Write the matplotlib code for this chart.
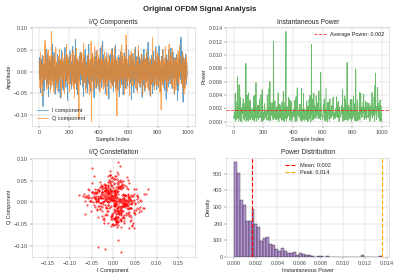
import numpy as np
import matplotlib.pyplot as plt

# I/Q samples (in units of 1e-3), every 2nd sample of the 1000-sample signal
i_vals = [
    4, -17, 33, -2, 21, -48, 7, -12, 29, 15, -6, 38, -23, -80, 9, -31, 18, 1, -44, 11,
    -8, 26, -14, 52, 3, -35, 19, -1, -27, 41, 12, -5, -58, 22, 6, -16, 30, -9, 24, -39,
    17, 10, -4, 36, -21, 63, -11, 2, -33, 8, 45, -19, 28, -7, -52, 13, 0, -26, 20, 5,
    -29, 6, 40, -15, -3, 23, -47, 11, 34, 1, -18, -61, 9, 27, -10, 49, -5, 14, -37, 2,
    22, -43, 7, -13, 31, -2, 18, 56, -24, 4, -36, 15, -8, 39, -20, 3, -67, 26, 10, -6,
    -1, 34, -17, 9, 48, -28, 12, -5, 21, -40, 6, 25, -14, 59, -3, -32, 16, 8, -22, 37,
    11, -26, 75, -9, 19, 2, -41, 30, -15, 7, -53, 24, -4, 13, -20, 36, 0, -11, 44, -30,
    5, 28, -18, 42, -7, 15, -35, 1, 23, -57, 10, 33, -2, -25, 18, 51, -12, 6, -39, 21,
    -14, 3, 37, -49, 8, 20, -27, 64, -6, 12, -33, 2, 26, -16, -45, 9, 18, 31, -4, -22,
    40, -10, 7, -30, 16, -60, 24, -3, 35, 13, -19, 1, 47, -38, 5, 22, -8, -27, 11, 29,
    -5, 19, -42, 9, 32, -13, 55, -1, -24, 14, 4, -36, 27, -9, 70, -17, 6, 38, -28, 2,
    25, -7, 13, -51, 3, 31, -20, 8, 44, -15, -2, 19, -34, 10, 6, -63, 28, -12, 37, 0,
    -18, 41, 4, -26, 15, -9, 54, -32, 7, 22, -46, 1, 17, 30, -5, -21, 12, 62, -38, 8,
    3, 27, -35, 14, -42, 6, -17, 38, -1, 21, -58, 9, 33, -12, 5, 46, -24, 16, -7, -30,
    36, -4, 20, -53, 11, 2, -28, 44, -15, 7, 29, -38, -10, 15, 61, -21, 3, -33, 18, -6,
    -13, 24, 50, -2, -37, 17, 8, -26, 39, -9, 13, -65, 4, 31, -19, 1, 42, -11, 22, -48,
    9, -30, 16, 3, 57, -22, -6, 35, -14, 25, -43, 0, 12, -27, 48, 7, -18, 34, -3, 20,
    -36, 11, -5, 28, -16, 6, 40, -59, 19, -1, 23, -31, 8, 52, -12, 2, -45, 15, 30, -8,
    14, -24, 43, -7, 1, 33, -19, 68, -3, -40, 10, 21, -13, 5, -55, 26, 9, -29, 17, 38,
    -2, 31, -50, 12, -20, 4, 47, -34, 18, -8, 25, -14, 3, 58, -27, 10, -41, 6, 36, -17,
    22, -9, -37, 15, 60, -4, 29, -21, 7, -46, 13, 10, 35, -16, 2, -30, 19, 51, -11, 5,
    -26, 8, 17, -43, 1, 32, -12, 24, -64, 6, 39, -18, 11, -3, 27, -35, 49, 14, -7, 21,
    4, -28, 36, -10, 55, -19, 2, 16, -39, 9, -23, 45, -1, 28, -14, 7, -52, 20, 33, -5,
    -15, 26, -8, 40, -31, 12, -66, 3, 19, -44, 30, -2, 23, -11, 37, 6, 71, -18, 80, -27,
    13, -4, 47, -21, 9, -70, 34, -12, 1, 25, -36, 17, -7, 41, -16, 5, -29, 22, 2, -10,
]
q_vals = [
    27, -12, 5, -38, 16, 44, -3, 21, -29, 8, -55, 13, 1, 18, -24, 35, -9, 10, 60, -17,
    72, 6, -19, 30, -8, 14, -41, 3, 25, -13, 50, -34, 9, -2, 19, -27, 37, 11, -47, 4,
    -22, 93, 8, -31, 15, 2, 39, -16, 26, -5, -48, 12, 0, 33, -20, 7, 57, -11, -36, 23,
    10, -43, 18, 4, -26, 35, 1, -14, 52, -7, 29, 13, -38, -3, 21, -59, 6, 32, -18, 45,
    -7, 24, -35, 11, 2, -50, 37, 16, -4, 28, 9, -21, 63, -13, 40, -2, 19, -30, 5, 14,
    33, -15, 6, -46, 20, -1, 27, 41, -10, 8, -32, 15, 3, -22, 49, -8, -39, 12, 26, -60,
    -11, 38, 20, 7, -28, 54, 13, -5, 31, -42, 2, 17, 23, -9, -108, 10, -24, 36, -1, 47,
    18, -6, 29, -14, 44, 3, -33, 22, -9, 12, 65, -25, 5, 37, -17, -2, 26, -49, 14, 8,
    -30, 15, 4, 24, -12, 40, 1, -21, 9, -53, 28, 6, -37, 13, 19, 70, -115, 32, -8, 43,
    -3, 21, -45, 12, 34, -7, 16, 58, -26, 2, 8, -38, 30, -15, 4, 50, -11, 23, -33, 6,
    39, -18, 9, 26, -2, -47, 14, 5, 33, -24, 61, -9, 17, 1, -13, 28, -41, 7, 20, -35,
    -8, 46, -27, 3, 19, -12, 36, 0, -55, 24, 10, -30, 6, 42, -17, 15, -4, 31, -22, 13,
    21, -2, -39, 16, 8, 51, -14, 27, 4, -33, 12, -6, 38, -24, 57, 2, -19, -10, 29, -46,
    -5, 18, -102, 33, -10, 25, 7, -44, 14, -1, 30, -21, 11, 48, -36, 3, 20, -15, 62, 9,
    12, -31, 43, 2, -19, 27, -8, -52, 16, 36, -4, 22, -13, 85, 6, -40, 29, 1, -25, 14,
    -20, 9, -3, 37, 23, -56, 11, 30, -14, 4, 47, -28, 17, -7, 39, -1, -33, 15, 5, 24,
    31, -16, 52, -9, 13, 2, -38, 19, 26, -4, 8, -49, 35, 11, -22, 60, -6, 15, -29, 1,
    7, -34, 22, -11, 41, -26, 3, 16, 30, -53, 10, -2, 24, -18, 38, 5, 12, -40, -7, 28,
    -23, 9, 15, 49, -36, 1, 27, -12, 6, 21, -44, 33, -5, 17, 29, -8, -57, 13, 2, -30,
    16, -6, 80, -25, 35, 12, -17, 3, -42, 26, 8, -13, 54, 1, -31, 19, 22, -4, 45, -10,
    -33, 20, 4, 38, -15, 28, 6, -47, 11, 23, -2, -88, 17, 32, -9, 14, 50, -26, 1, -37,
    25, -13, 3, 30, -21, 58, -7, 39, 12, -34, 5, 18, -45, 27, -1, 10, -24, 35, 64, -8,
    -17, 36, -4, 22, 7, -29, 43, -11, 1, 53, -38, 14, 26, -3, 19, -51, 9, -20, 31, 6,
    11, -42, 28, 5, -16, 37, 2, -23, 48, -7, 15, -31, 20, 60, -12, 3, 20, 34, 30, -19,
    -28, 17, 6, -36, 44, 15, -9, 23, -52, 2, 31, -14, 10, -40, 26, -3, 39, -21, 8, 13,
]
# power histogram (density per bin, 50 bins)
hist_density = [570, 505, 345, 315, 215, 215, 290, 195, 180, 95,
                115, 120, 75, 70, 45, 35, 50, 35, 25, 25,
                27, 10, 20, 15, 10, 8, 5, 0, 3, 3,
                0, 2, 0, 0, 0, 0, 0, 0, 0, 0,
                0, 0, 0, 10, 0, 0, 0, 0, 0, 4]

I = np.array(i_vals) / 1000
Q = np.array(q_vals) / 1000
n = np.arange(0, 2 * len(I), 2)
power = I**2 + Q**2
avg_power = power.mean()
peak_power = power.max()

plt.style.use('seaborn-v0_8-whitegrid')
plt.rcParams.update({'xtick.major.size': 3.5, 'ytick.major.size': 3.5,
                     'xtick.color': '0.3', 'ytick.color': '0.3'})

fig, axes = plt.subplots(2, 2, figsize=(10, 7))
fig.suptitle('Original OFDM Signal Analysis', fontsize=14, fontweight='bold')

ax = axes[0, 0]
ax.plot(n, I, label='I component', alpha=0.7, linewidth=1.5)
ax.plot(n, Q, label='Q component', alpha=0.7, linewidth=1.5)
ax.set_title('I/Q Components')
ax.set_xlabel('Sample Index')
ax.set_ylabel('Amplitude')
ax.legend(loc='lower left')

ax = axes[0, 1]
ax.plot(n, power, color='tab:green', alpha=0.7, linewidth=1.5)
ax.axhline(avg_power, color='red', linestyle='--', alpha=0.8,
           label=f'Average Power: {avg_power:.3f}')
ax.set_title('Instantaneous Power')
ax.set_xlabel('Sample Index')
ax.set_ylabel('Power')
ax.legend(loc='upper right')

ax = axes[1, 0]
ax.scatter(I, Q, s=8, color='red', alpha=0.6)
ax.set_title('I/Q Constellation')
ax.set_xlabel('I Component')
ax.set_ylabel('Q Component')
ax.axis('equal')

ax = axes[1, 1]
edges = np.linspace(power.min(), peak_power, len(hist_density) + 1)
ax.bar(edges[:-1], hist_density, width=np.diff(edges), align='edge',
       color='tab:purple', alpha=0.7, edgecolor='black', linewidth=0.8)
ax.axvline(avg_power, color='red', linestyle='--', linewidth=2,
           label=f'Mean: {avg_power:.3f}')
ax.axvline(peak_power, color='orange', linestyle='--', linewidth=2,
           label=f'Peak: {peak_power:.3f}')
ax.set_title('Power Distribution')
ax.set_xlabel('Instantaneous Power')
ax.set_ylabel('Density')
ax.legend(loc='upper center')

plt.tight_layout()
plt.savefig('out.png', dpi=40)
